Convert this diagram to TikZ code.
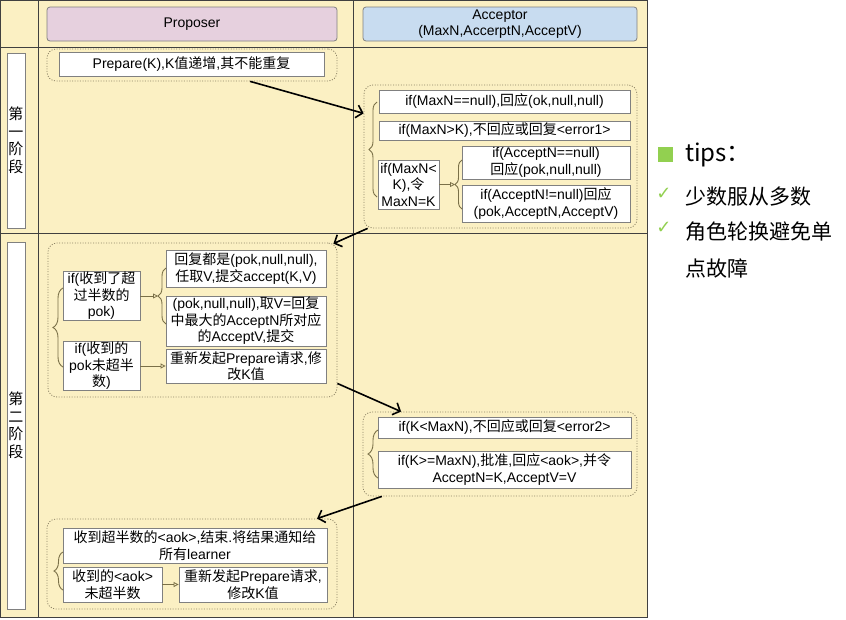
\documentclass[tikz,border=0pt]{standalone}
\usepackage{fontspec}
\setmainfont{Liberation Sans}
\newfontfamily\cjk{Noto Sans CJK SC}
\newfontfamily\latinf{Liberation Sans}
\newfontfamily\symf{DejaVu Sans}
\usetikzlibrary{arrows.meta,decorations.pathreplacing,calc}
\XeTeXinterchartokenstate=1
\newXeTeXintercharclass\CJKcls
\newcount\cjkc
\cjkc="4E00 \loop\XeTeXcharclass\cjkc=\CJKcls \ifnum\cjkc<"9FFF \advance\cjkc by 1 \repeat
\cjkc="3000 \loop\XeTeXcharclass\cjkc=\CJKcls \ifnum\cjkc<"303F \advance\cjkc by 1 \repeat
\cjkc="FF00 \loop\XeTeXcharclass\cjkc=\CJKcls \ifnum\cjkc<"FFEF \advance\cjkc by 1 \repeat
\XeTeXinterchartoks 0 \CJKcls = {\cjk}
\XeTeXinterchartoks 4095 \CJKcls = {\cjk}
\XeTeXinterchartoks \CJKcls 0 = {\latinf}
\XeTeXinterchartoks 4095 0 = {\latinf}
\definecolor{tablebg}{HTML}{FBF0C3}
\definecolor{propfill}{HTML}{E6D0DE}
\definecolor{accfill}{HTML}{C8DCF0}
\definecolor{gridline}{HTML}{404040}
\definecolor{boxline}{HTML}{808080}
\definecolor{grpline}{HTML}{8C8264}
\definecolor{bracecol}{HTML}{7A7048}
\definecolor{tipgreen}{HTML}{92D050}
\newcommand\mybox[6]{\node[#1,minimum width={#4-#2},minimum height={#5-#3}] (#6) at ({(#2+#4)/2},{(#3+#5)/2})}
\begin{document}
\begin{tikzpicture}[x=1pt,y=-1pt,font=\fontsize{14}{16.5}\selectfont,
  boxw/.style={draw=boxline, fill=white, line width=0.8pt, inner sep=1pt, align=center},
  grp/.style={draw=grpline, line width=0.8pt, dash pattern=on 1pt off 1.6pt, rounded corners=9pt, inner sep=0pt},
  hdr/.style={draw=boxline, line width=0.8pt, rounded corners=3pt, align=center, inner sep=1pt},
  lab/.style={draw=boxline, fill=white, line width=0.8pt, align=center, inner sep=0pt, font=\fontsize{15}{17.5}\selectfont},
  brc/.style={draw=bracecol, line width=0.9pt, decorate, decoration={brace, amplitude=#1}},
  tri/.style={draw=bracecol, line width=0.8pt, -{Triangle[open,length=5pt,width=5pt]}},
  bigarrow/.style={line width=1.6pt, -{Straight Barb[length=6pt,width=13pt]}}]
\useasboundingbox (0,0) rectangle (846,619);
\fill[white] (0,0) rectangle (846,619);
% table
\fill[tablebg] (0,0) rectangle (647,617);
\draw[gridline, line width=1pt] (0.5,0.5) rectangle (647,617);
\draw[gridline, line width=1pt] (0,47) -- (647,47) (0,233) -- (647,233) (38,0) -- (38,617) (353,0) -- (353,617);
% headers
\mybox{hdr, fill=propfill}{47}{7}{337}{41}{hprop} {Proposer};
\mybox{hdr, fill=accfill}{363}{7}{637}{41}{hacc} {Acceptor\\(MaxN,AccerptN,AcceptV)};
% phase labels
\mybox{lab}{7}{53}{25}{228}{lab1} {第\\一\\阶\\段};
\mybox{lab}{7}{242}{25}{609}{lab2} {第\\二\\阶\\段};
% phase 1 proposer
\mybox{grp}{47}{49}{337}{81}{pg1} {};
\mybox{boxw}{59}{52}{324}{76}{b01} {Prepare(K),K值递增,其不能重复};
% phase 1 acceptor
\mybox{grp}{364}{85}{637}{228}{ag1} {};
\mybox{boxw}{379}{90}{630}{113}{b11} {if(MaxN==null),回应(ok,null,null)};
\mybox{boxw}{379}{121}{630}{140}{b12} {if(MaxN>K),不回应或回复<error1>};
\mybox{boxw}{378}{160}{439}{209}{b13} {if(MaxN<\\K),令\\MaxN=K};
\mybox{boxw}{462}{146}{630}{179}{b14} {if(AcceptN==null)\\回应(pok,null,null)};
\mybox{boxw}{462}{185}{630}{222}{b15} {if(AcceptN!=null)回应\\(pok,AcceptN,AcceptV)};
\draw[brc=8pt] (377,197) -- (377,102);
\draw[brc=7pt] (462,209) -- (462,160);
\coordinate (t2tip) at (455,184.5);
\draw[tri] (b13.east) -- (t2tip);
% phase 2 proposer
\mybox{grp}{48}{243}{337}{397}{pg2} {};
\mybox{boxw}{63}{272}{140}{320}{c1} {if(收到了超\\过半数的\\pok)};
\mybox{boxw}{63}{342}{140}{390}{c2} {if(收到的\\pok未超半\\数)};
\mybox{boxw}{166}{250}{326}{287}{c3} {回复都是(pok,null,null),\\任取V,提交accept(K,V)};
\mybox{boxw}{166}{296}{326}{346}{c4} {(pok,null,null),取V=回复\\中最大的AcceptN所对应\\的AcceptV,提交};
\mybox{boxw}{166}{349}{326}{383}{c5} {重新发起Prepare请求,修\\改K值};
\draw[brc=10pt] (63,367) -- (63,288);
\draw[brc=8pt] (166,324) -- (166,268);
\coordinate (t4tip) at (158,296);
\draw[tri] (c1.east) -- (t4tip);
\draw[tri] (c2.east) -- (c5.west);
% phase 2 acceptor
\mybox{grp}{363}{412}{637}{496}{ag2} {};
\mybox{boxw}{378}{417}{631}{438}{d1} {if(K<MaxN),不回应或回复<error2>};
\mybox{boxw}{378}{451}{631}{488}{d2} {if(K>=MaxN),批准,回应<aok>,并令\\AcceptN=K,AcceptV=V};
\draw[brc=10pt] (378,478) -- (378,430);
% phase 3 proposer
\mybox{grp}{47}{519}{337}{609}{pg3} {};
\mybox{boxw}{63}{528}{327}{563}{e1} {收到超半数的<aok>,结束.将结果通知给\\所有learner};
\mybox{boxw}{63}{567}{162}{602}{e2} {收到的<aok>\\未超半数};
\mybox{boxw}{179}{567}{327}{602}{e3} {重新发起Prepare请求,\\修改K值};
\draw[brc=9pt] (63,590) -- (63,552);
\draw[tri] (e2.east) -- (e3.west);
% big arrows
\draw[bigarrow] ($(pg1.south west)!0.70!(pg1.south east)$) -- ($(ag1.north west)!0.20!(ag1.south west)$);
\draw[bigarrow] ($(ag1.south west)+(4,0)$) -- ($(pg2.north east)+(-4,1)$);
\draw[bigarrow] ($(pg2.north east)!0.91!(pg2.south east)$) -- ($(ag2.north west)!0.14!(ag2.north east)$);
\draw[bigarrow] ($(ag2.south west)!0.07!(ag2.south east)$) -- ($(pg3.north west)!0.93!(pg3.north east)$);
% tips
\node[fill=tipgreen, minimum size=15pt, inner sep=0pt] (sq) at (665.5,154.5) {};
\node[anchor=west, inner sep=0pt] (tipst) at (685,155) {\XeTeXinterchartokenstate=0 \cjk\fontsize{24}{28}\selectfont tips：};
\node[text=tipgreen, inner sep=0pt] (ck1) at (664,194) {\XeTeXinterchartokenstate=0 \symf\fontsize{18}{18}\selectfont ✓};
\node[text=tipgreen, inner sep=0pt] (ck2) at (664,228) {\XeTeXinterchartokenstate=0 \symf\fontsize{18}{18}\selectfont ✓};
\node[anchor=west, inner sep=0pt] (t1) at (685,197) {\XeTeXinterchartokenstate=0 \cjk\fontsize{21}{25}\selectfont 少数服从多数};
\node[anchor=west, inner sep=0pt] (t2) at (685,232) {\XeTeXinterchartokenstate=0 \cjk\fontsize{21}{25}\selectfont 角色轮换避免单};
\node[anchor=west, inner sep=0pt] (t3) at (685,268) {\XeTeXinterchartokenstate=0 \cjk\fontsize{21}{25}\selectfont 点故障};
\end{tikzpicture}
\end{document}
